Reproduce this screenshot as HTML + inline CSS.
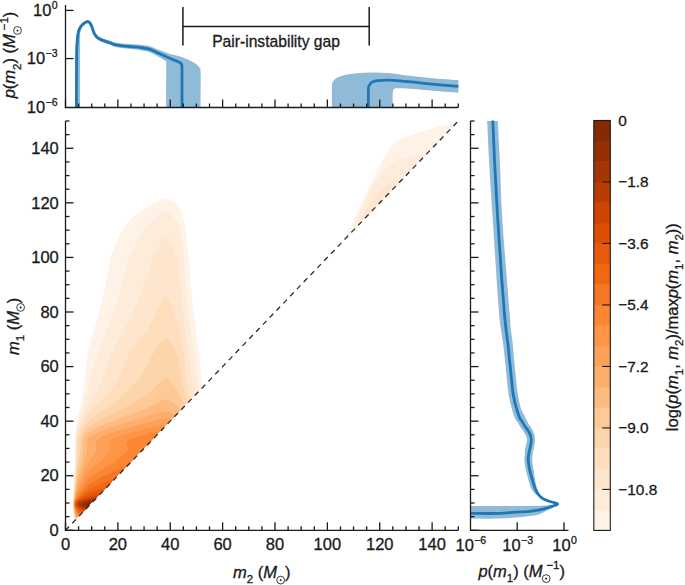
<!DOCTYPE html>
<html><head><meta charset="utf-8"><style>
html,body{margin:0;padding:0;background:#fff;width:685px;height:585px;overflow:hidden}
svg{display:block}
text{font-family:"Liberation Sans",sans-serif}
</style></head><body>
<svg width="685" height="585" viewBox="0 0 685 585">
<defs>
<clipPath id="cm"><rect x="65.5" y="120.99" width="392.81" height="409.31"/></clipPath>
<clipPath id="ct"><rect x="65.5" y="0" width="393.81" height="107.50"/></clipPath>
<clipPath id="cr"><rect x="470.5" y="119.99" width="110" height="410.31"/></clipPath>
</defs>
<rect width="685" height="585" fill="#fff"/>
<g clip-path="url(#cm)">
<path fill="#fff2e6" fill-rule="evenodd" d="M75.5 519.3 74.5 519.7 73.6 514.3 73.5 496.9 75.0 458.2 75.2 438.2 77.5 417.1 81.4 403.2 82.5 397.2 85.0 378.2 86.8 359.2 88.5 348.5 91.6 337.1 97.2 320.1 100.1 309.1 104.8 288.1 110.9 257.1 112.6 252.3 121.7 231.1 125.6 224.8 130.4 219.1 133.8 216.1 141.1 211.1 158.7 201.0 164.1 199.1 167.7 199.0 175.1 203.1 177.7 205.3 179.7 207.8 182.4 214.1 184.8 224.1 188.5 255.1 190.8 284.6 193.2 309.1 199.6 357.2 202.1 387.2 201.8 388.2 180.8 409.2 180.8 410.2 157.8 433.2 157.8 434.2 134.8 457.2 134.8 458.2 111.8 481.3 111.8 482.3 88.8 505.3 88.8 506.3 75.5 519.3Z"/>
<path fill="#feecda" fill-rule="evenodd" d="M75.5 519.3 74.5 519.1 74.0 516.3 73.5 511.1 73.5 502.3 75.3 461.2 75.6 440.2 76.5 431.4 77.5 423.6 78.5 420.1 82.0 411.2 87.5 389.4 91.7 375.2 95.8 358.2 99.6 347.5 111.1 320.1 114.7 310.1 121.1 288.1 127.7 260.1 129.9 254.1 142.6 233.1 149.6 224.1 154.3 219.1 159.7 214.2 163.7 212.3 166.7 211.7 168.7 212.6 171.8 215.1 175.7 219.4 178.7 225.1 180.8 232.1 184.1 257.1 186.7 298.1 188.5 319.1 194.7 355.2 197.2 377.2 199.3 390.2 198.8 391.2 180.8 409.2 180.8 410.2 157.8 433.2 157.8 434.2 134.8 457.2 134.8 458.2 111.7 481.3 111.7 482.3 88.8 505.3 88.8 506.3 75.5 519.3Z"/>
<path fill="#fee6ce" fill-rule="evenodd" d="M75.5 519.3 75.0 519.3 74.5 518.5 74.1 515.3 73.5 509.6 73.5 499.7 76.0 457.2 76.3 439.2 77.5 429.3 78.5 426.2 81.5 420.0 87.5 405.2 96.3 391.2 102.0 380.2 104.3 374.2 108.5 360.2 111.0 354.2 128.9 320.1 137.6 301.9 144.9 283.1 148.7 270.8 151.4 260.1 153.3 255.1 160.7 242.1 164.7 237.9 166.7 237.3 168.7 239.7 173.7 249.0 175.8 254.1 177.1 259.1 180.7 287.5 184.1 320.1 191.0 372.2 192.6 381.2 195.7 394.2 180.8 409.2 180.8 410.2 157.8 433.2 157.8 434.2 134.8 457.2 134.8 458.2 111.7 481.3 111.7 482.3 88.8 505.3 88.8 506.3 75.5 519.3Z"/>
<path fill="#fedebd" fill-rule="evenodd" d="M75.5 519.3 74.8 518.3 74.4 516.3 73.5 508.1 73.5 500.8 76.6 459.2 77.1 439.2 77.5 435.2 78.5 431.8 81.5 426.1 84.5 419.3 87.5 414.6 105.1 397.2 115.1 384.2 119.6 376.2 125.3 361.2 128.8 354.2 132.1 349.2 148.7 326.9 154.3 317.1 160.7 302.7 164.7 296.9 165.7 296.2 166.7 296.2 168.7 299.4 173.7 312.2 177.7 323.7 180.7 334.3 184.4 356.2 187.4 383.2 189.0 391.2 191.3 398.2 190.8 399.2 180.8 409.2 180.8 410.2 157.8 433.2 157.8 434.2 134.7 457.2 134.7 458.2 111.7 481.3 111.7 482.3 88.7 505.3 88.7 506.3 75.5 519.3Z"/>
<path fill="#fdd5ab" fill-rule="evenodd" d="M76.5 518.3 75.5 518.8 74.5 516.2 73.5 506.7 73.5 501.9 77.1 463.3 78.0 450.2 78.1 440.2 78.7 437.2 83.5 427.3 85.5 424.0 88.5 420.4 92.6 417.4 104.3 410.2 116.7 401.2 123.6 395.2 136.2 382.2 139.6 378.2 142.2 374.2 150.2 358.2 158.7 344.9 160.7 342.5 163.7 339.8 165.7 338.8 166.7 338.8 168.7 340.6 173.7 348.2 175.7 352.1 177.7 357.3 179.4 364.2 183.5 387.2 187.4 402.2 180.8 409.2 180.8 410.2 157.8 433.2 157.8 434.2 134.7 457.2 134.7 458.2 111.7 481.3 111.7 482.3 88.7 505.3 88.7 506.3 76.5 518.3Z"/>
<path fill="#fdc997" fill-rule="evenodd" d="M76.5 518.3 75.5 518.0 74.5 514.4 73.5 503.3 77.5 467.3 80.5 451.2 80.7 440.2 84.5 431.1 87.5 427.4 92.6 423.9 104.6 417.7 118.6 411.2 143.6 397.2 150.7 391.6 155.2 387.2 159.7 382.0 162.7 379.4 165.7 377.6 166.7 377.5 167.7 378.2 173.7 385.7 177.7 391.6 181.7 399.6 184.0 405.2 183.7 406.2 180.7 409.2 180.8 410.2 157.8 433.2 157.8 434.2 134.7 457.2 134.7 458.2 111.7 481.3 111.7 482.3 88.7 505.3 88.7 506.3 76.5 518.3Z"/>
<path fill="#fdbb81" fill-rule="evenodd" d="M76.5 518.3 75.5 516.9 74.5 512.3 73.7 505.3 73.8 502.3 76.2 486.3 77.5 475.0 81.5 461.8 82.6 456.2 83.3 450.2 83.2 443.2 83.5 439.2 84.5 437.0 87.5 432.9 91.6 430.1 103.6 424.5 125.6 415.9 144.8 409.2 151.2 406.2 159.7 401.4 163.7 399.8 165.7 399.4 167.7 399.6 173.7 403.3 177.7 406.5 180.7 409.8 180.7 410.2 157.7 433.2 157.7 434.2 134.7 457.2 134.7 458.2 111.7 481.3 111.7 482.3 88.7 505.3 88.7 506.3 76.5 518.3Z"/>
<path fill="#fdae6a" fill-rule="evenodd" d="M77.5 517.3 76.5 517.5 75.5 515.3 73.8 505.3 74.0 502.3 77.5 481.9 79.5 475.2 82.0 469.3 86.8 452.2 87.3 448.2 87.0 442.2 87.5 439.5 88.5 438.2 91.6 436.0 96.7 433.2 107.6 428.7 127.6 421.9 147.7 416.3 160.7 412.0 166.7 411.0 168.7 411.5 175.7 414.3 175.7 415.2 157.7 433.2 157.7 434.2 134.7 457.2 134.7 458.2 111.7 481.3 111.7 482.3 88.7 505.3 88.7 506.3 77.5 517.3Z"/>
<path fill="#fda159" fill-rule="evenodd" d="M77.5 517.3 77.1 517.3 76.6 516.3 75.5 513.3 74.5 509.1 74.0 504.3 74.5 500.1 76.4 493.3 77.5 487.4 85.5 467.8 87.5 464.1 93.2 456.2 96.0 451.2 96.7 448.2 95.9 445.2 95.8 443.2 96.7 440.2 97.5 439.2 101.0 437.2 110.5 433.2 128.6 427.5 146.7 423.1 160.7 419.2 166.7 418.4 170.7 419.4 170.7 420.2 157.7 433.2 157.7 434.2 134.7 457.2 134.7 458.2 111.7 481.3 111.7 482.3 88.7 505.3 88.7 506.3 77.5 517.3Z"/>
<path fill="#fd9446" fill-rule="evenodd" d="M78.5 516.3 77.5 516.6 76.9 515.3 75.5 511.5 74.2 505.3 74.5 501.1 76.3 496.3 77.5 491.5 81.5 484.4 84.5 477.2 87.5 472.4 90.6 469.4 98.4 463.3 104.0 458.2 109.6 451.2 110.5 448.2 109.2 444.2 109.6 442.2 110.5 440.2 113.6 438.2 129.6 432.8 159.7 425.6 165.7 424.8 165.7 425.2 157.7 433.2 157.7 434.2 134.7 457.2 134.7 458.2 111.6 481.3 111.6 482.3 88.7 505.3 88.7 506.3 78.5 516.3Z"/>
<path fill="#fb8634" fill-rule="evenodd" d="M159.7 431.2 159.5 431.2 159.7 431.2 159.7 431.2ZM79.5 515.3 78.5 516.0 77.5 515.0 75.5 509.9 74.4 505.3 74.5 502.2 77.5 494.5 81.5 489.3 84.5 483.8 88.5 478.5 93.6 474.7 114.4 462.2 122.4 456.2 127.7 450.2 128.2 448.2 126.7 445.2 126.7 443.2 128.2 440.2 129.6 439.2 132.6 438.1 158.7 431.4 158.7 432.2 157.7 433.2 157.7 434.2 134.7 457.2 134.7 458.2 111.6 481.3 111.6 482.3 88.7 505.3 88.7 506.3 79.5 515.3Z"/>
<path fill="#f67723" fill-rule="evenodd" d="M127.6 465.3 126.8 465.3 127.6 464.9 127.6 465.3ZM80.5 514.3 79.5 514.9 77.5 513.0 74.6 505.3 74.7 503.3 75.5 500.6 77.5 496.9 81.5 492.8 86.5 486.6 90.6 483.4 102.6 476.6 126.6 465.3 126.6 466.3 111.6 481.3 111.6 482.3 88.7 505.3 88.6 506.3 80.5 514.3Z"/>
<path fill="#f16813" fill-rule="evenodd" d="M114.6 478.3 114.4 478.3 114.6 478.2 114.6 478.3ZM81.5 513.3 80.5 513.5 77.5 511.2 75.0 505.3 75.5 501.6 77.5 498.5 81.5 495.6 84.5 492.5 88.5 489.6 113.6 478.6 113.6 479.3 111.6 481.3 111.6 482.3 88.6 505.3 88.6 506.3 81.5 513.3Z"/>
<path fill="#e75c0c" fill-rule="evenodd" d="M106.6 487.3 106.2 487.3 106.6 487.1 106.6 487.3ZM82.5 512.3 81.7 512.3 79.5 511.1 77.5 509.6 75.5 505.8 75.5 503.0 77.5 499.7 81.5 497.6 85.5 494.7 88.5 493.1 105.6 487.5 105.6 488.3 88.6 505.3 88.6 506.3 82.5 512.3Z"/>
<path fill="#de4e05" fill-rule="evenodd" d="M83.5 511.3 82.7 511.3 78.5 508.9 77.5 508.1 76.5 506.3 75.9 505.3 75.9 504.3 76.5 502.3 77.5 500.8 88.5 495.8 100.6 492.7 100.6 493.3 88.6 505.3 88.6 506.3 83.5 511.3Z"/>
<path fill="#ce4401" fill-rule="evenodd" d="M97.6 496.3 96.6 496.3 97.6 496.1 97.6 496.3ZM84.5 510.3 83.5 510.2 77.5 506.8 76.6 505.3 76.6 504.3 77.5 501.8 87.5 498.0 96.6 496.3 96.6 497.3 88.6 505.3 88.6 506.3 84.5 510.3Z"/>
<path fill="#b93d02" fill-rule="evenodd" d="M95.6 498.3 95.0 498.3 95.6 498.2 95.6 498.3ZM85.5 509.3 83.5 508.7 77.5 505.6 77.6 503.3 78.6 502.3 84.5 500.0 88.5 499.1 94.6 498.3 94.6 499.3 88.6 505.3 88.6 506.3 85.5 509.3Z"/>
<path fill="#a53603" fill-rule="evenodd" d="M86.5 508.3 79.1 505.3 79.0 504.3 79.8 503.3 83.9 501.3 87.5 500.4 93.6 499.6 93.6 500.3 88.6 505.3 88.6 506.3 86.5 508.3Z"/>
<path fill="#963003" fill-rule="evenodd" d="M88.5 506.3 87.5 507.2 84.5 506.4 82.0 505.3 82.0 504.3 82.7 503.3 84.5 502.2 92.6 500.8 92.6 501.3 88.6 505.3 88.5 506.3Z"/>
<path fill="#862a04" fill-rule="evenodd" d="M88.5 506.2 84.9 505.3 84.8 504.3 86.0 503.3 87.5 502.7 91.6 502.0 88.6 505.3 88.5 506.2Z"/>
<path fill="#fff2e6" d="M458.30 121.00 C457.73 121.20 457.95 121.37 454.90 122.20 C451.85 123.03 444.78 124.65 440.00 126.00 C435.22 127.35 430.53 128.97 426.20 130.30 C421.87 131.63 418.12 132.62 414.00 134.00 C409.88 135.38 404.75 137.02 401.50 138.60 C398.25 140.18 396.55 141.68 394.50 143.50 C392.45 145.32 391.28 146.50 389.20 149.50 C387.12 152.50 384.38 157.18 382.00 161.50 C379.62 165.82 377.32 170.48 374.90 175.40 C372.48 180.32 369.90 185.87 367.50 191.00 C365.10 196.13 363.08 200.70 360.50 206.20 C357.92 211.70 354.50 218.61 352.00 224.00 C349.50 229.39 346.58 236.12 345.50 238.54 Z"/><path fill="#feecda" d="M425.40 155.28 C423.87 155.34 419.80 155.16 416.20 155.60 C412.60 156.04 407.92 156.63 403.80 157.90 C399.68 159.17 395.33 160.55 391.50 163.20 C387.67 165.85 384.38 169.20 380.80 173.80 C377.22 178.40 373.13 185.10 370.00 190.80 C366.87 196.50 364.33 202.80 362.00 208.00 C359.67 213.20 357.42 218.30 356.00 222.00 C354.58 225.70 353.92 228.84 353.50 230.20 Z"/><path fill="#fee6ce" d="M400.80 180.92 C399.50 180.90 395.57 179.89 393.00 180.80 C390.43 181.71 388.73 183.20 385.40 186.40 C382.07 189.60 376.23 195.98 373.00 200.00 C369.77 204.02 368.00 207.33 366.00 210.50 C364.00 213.67 362.25 216.58 361.00 219.00 C359.75 221.42 358.92 223.99 358.50 224.99 Z"/>
</g>
<line x1="65.50" y1="530.30" x2="458.31" y2="120.99" stroke="#2b2b2b" stroke-width="1.3" stroke-dasharray="5.2 4.63"/>
<g clip-path="url(#ct)"><path d="M75.40 108.00 C75.40 98.67 75.27 63.50 75.40 52.00 C75.53 40.50 75.88 42.50 76.20 39.00 C76.52 35.50 76.70 33.20 77.30 31.00 C77.90 28.80 78.80 27.27 79.80 25.80 C80.80 24.33 82.03 23.15 83.30 22.20 C84.57 21.25 86.18 20.20 87.40 20.10 C88.62 20.00 89.67 20.65 90.60 21.60 C91.53 22.55 92.37 24.37 93.00 25.80 C93.63 27.23 93.87 28.93 94.40 30.20 C94.93 31.47 95.60 32.41 96.20 33.40 C96.80 34.39 97.03 35.35 98.00 36.14 C98.97 36.93 100.67 37.58 102.00 38.13 C103.33 38.69 104.67 39.06 106.00 39.49 C107.33 39.92 108.67 40.26 110.00 40.73 C111.33 41.21 112.67 41.94 114.00 42.33 C115.33 42.71 116.67 42.85 118.00 43.05 C119.33 43.24 120.67 43.37 122.00 43.50 C123.33 43.63 124.67 43.73 126.00 43.83 C127.33 43.93 128.67 44.00 130.00 44.09 C131.33 44.17 132.67 44.27 134.00 44.35 C135.33 44.43 136.67 44.48 138.00 44.58 C139.33 44.68 140.67 44.78 142.00 44.93 C143.33 45.09 144.67 45.26 146.00 45.49 C147.33 45.72 148.67 45.93 150.00 46.30 C151.33 46.67 152.67 47.18 154.00 47.72 C155.33 48.26 156.67 48.97 158.00 49.52 C159.33 50.07 160.67 50.55 162.00 51.03 C163.33 51.51 164.33 51.79 166.00 52.39 C167.67 52.98 169.57 53.86 172.00 54.60 C174.43 55.34 177.70 55.85 180.60 56.80 C183.50 57.75 186.90 59.13 189.40 60.30 C191.90 61.47 193.97 62.58 195.60 63.80 C197.23 65.02 198.37 66.23 199.20 67.60 C200.03 68.97 200.37 65.27 200.60 72.00 C200.83 78.73 200.60 102.00 200.60 108.00 L166.20 108.00 C166.20 100.17 166.23 68.84 166.20 61.00 C166.17 53.16 166.70 61.37 166.00 60.99 C165.30 60.61 163.33 59.45 162.00 58.69 C160.67 57.94 159.33 57.23 158.00 56.48 C156.67 55.73 155.33 54.90 154.00 54.20 C152.67 53.50 151.33 52.80 150.00 52.30 C148.67 51.80 147.33 51.54 146.00 51.22 C144.67 50.91 143.33 50.64 142.00 50.40 C140.67 50.16 139.33 49.96 138.00 49.78 C136.67 49.60 135.33 49.46 134.00 49.31 C132.67 49.16 131.33 49.03 130.00 48.89 C128.67 48.75 127.33 48.62 126.00 48.47 C124.67 48.32 123.33 48.16 122.00 47.98 C120.67 47.80 119.33 47.63 118.00 47.39 C116.67 47.16 115.33 46.99 114.00 46.57 C112.67 46.15 111.33 45.38 110.00 44.87 C108.67 44.36 107.33 43.99 106.00 43.52 C104.67 43.04 103.33 42.62 102.00 42.01 C100.67 41.40 99.17 40.76 98.00 39.86 C96.83 38.96 95.80 37.81 95.00 36.60 C94.20 35.39 93.73 33.93 93.20 32.60 C92.67 31.27 92.40 29.93 91.80 28.60 C91.20 27.27 90.33 25.48 89.60 24.60 C88.87 23.72 88.23 23.25 87.40 23.30 C86.57 23.35 85.47 24.18 84.60 24.90 C83.73 25.62 82.87 26.48 82.20 27.60 C81.53 28.72 80.95 29.53 80.60 31.60 C80.25 33.67 80.18 27.27 80.10 40.00 C80.02 52.73 80.10 96.67 80.10 108.00Z" fill="#8fbbd9"/><path d="M332.00 108.00 C332.00 104.33 331.75 90.50 332.00 86.00 C332.25 81.50 332.67 82.37 333.50 81.00 C334.33 79.63 335.58 78.67 337.00 77.80 C338.42 76.93 339.83 76.43 342.00 75.80 C344.17 75.17 347.00 74.48 350.00 74.00 C353.00 73.52 356.00 73.17 360.00 72.90 C364.00 72.63 369.00 72.33 374.00 72.40 C379.00 72.47 384.40 72.77 390.00 73.30 C395.60 73.83 400.93 74.83 407.60 75.60 C414.27 76.37 421.53 77.13 430.00 77.90 C438.47 78.67 453.67 79.82 458.40 80.20 L458.40 92.70 C453.67 92.32 438.07 91.05 430.00 90.40 C421.93 89.75 415.33 89.17 410.00 88.80 C404.67 88.43 400.58 88.20 398.00 88.20 C395.42 88.20 395.33 88.33 394.50 88.80 C393.67 89.27 393.30 89.97 393.00 91.00 C392.70 92.03 392.75 92.17 392.70 95.00 C392.65 97.83 392.70 105.83 392.70 108.00Z" fill="#8fbbd9"/><path d="M76.40 108.00 C76.42 103.33 76.45 89.33 76.50 80.00 C76.55 70.67 76.55 58.77 76.70 52.00 C76.85 45.23 77.12 42.77 77.40 39.40 C77.68 36.03 77.88 33.87 78.40 31.80 C78.92 29.73 79.65 28.37 80.50 27.00 C81.35 25.63 82.35 24.50 83.50 23.60 C84.65 22.70 86.35 21.72 87.40 21.60 C88.45 21.48 89.05 22.00 89.80 22.90 C90.55 23.80 91.33 25.63 91.90 27.00 C92.47 28.37 92.68 29.78 93.20 31.10 C93.72 32.42 94.20 33.75 95.00 34.90 C95.80 36.05 96.70 37.08 98.00 38.00 C99.30 38.92 100.80 39.60 102.80 40.40 C104.80 41.20 108.17 42.13 110.00 42.80 C111.83 43.47 111.72 43.90 113.80 44.40 C115.88 44.90 119.58 45.43 122.50 45.80 C125.42 46.17 128.38 46.33 131.30 46.60 C134.22 46.87 136.88 46.95 140.00 47.40 C143.12 47.85 147.00 48.37 150.00 49.30 C153.00 50.23 155.37 51.78 158.00 53.00 C160.63 54.22 163.47 55.55 165.80 56.60 C168.13 57.65 169.82 58.40 172.00 59.30 C174.18 60.20 177.75 61.55 178.90 62.00 C180.6 62.8 182 63.8 182 66 L182 108" fill="none" stroke="#1f77b4" stroke-width="2.8" stroke-linejoin="round"/><path d="M368.40 108.00 C368.40 104.83 368.27 92.75 368.40 89.00 C368.53 85.25 368.73 86.53 369.20 85.50 C369.67 84.47 370.37 83.50 371.20 82.80 C372.03 82.10 373.13 81.67 374.20 81.30 C375.27 80.93 375.30 80.78 377.60 80.60 C379.90 80.42 384.27 80.17 388.00 80.20 C391.73 80.23 394.67 80.35 400.00 80.80 C405.33 81.25 413.33 82.23 420.00 82.90 C426.67 83.57 433.60 84.23 440.00 84.80 C446.40 85.37 455.33 86.05 458.40 86.30" fill="none" stroke="#1f77b4" stroke-width="2.8" stroke-linejoin="round"/></g>
<g clip-path="url(#cr)"><path d="M487.20 121.00 C487.50 127.50 488.07 143.50 489.00 160.00 C489.93 176.50 491.63 201.67 492.80 220.00 C493.97 238.33 494.97 254.67 496.00 270.00 C497.03 285.33 498.17 302.00 499.00 312.00 C499.83 322.00 500.28 324.43 501.00 330.00 C501.72 335.57 502.63 340.27 503.30 345.40 C503.97 350.53 504.45 355.67 505.00 360.80 C505.55 365.93 506.10 371.28 506.60 376.20 C507.10 381.12 507.47 386.25 508.00 390.30 C508.53 394.35 509.13 397.32 509.80 400.50 C510.47 403.68 511.13 406.43 512.00 409.40 C512.87 412.37 514.08 416.20 515.00 418.30 C515.92 420.40 516.50 420.38 517.50 422.00 C518.50 423.62 519.83 426.17 521.00 428.00 C522.17 429.83 523.58 431.50 524.50 433.00 C525.42 434.50 526.08 435.78 526.50 437.00 C526.92 438.22 527.08 438.95 527.00 440.30 C526.92 441.65 526.33 443.50 526.00 445.10 C525.67 446.70 525.20 448.25 525.00 449.90 C524.80 451.55 524.90 453.38 524.80 455.00 C524.70 456.62 524.27 457.25 524.40 459.60 C524.53 461.95 525.03 466.12 525.60 469.10 C526.17 472.08 527.03 474.70 527.80 477.50 C528.57 480.30 529.23 483.48 530.20 485.90 C531.17 488.32 532.13 490.28 533.60 492.00 C535.07 493.72 536.60 494.87 539.00 496.20 C541.40 497.53 545.17 498.87 548.00 500.00 C550.83 501.13 555.52 502.17 556.00 503.00 C556.48 503.83 555.90 504.50 550.90 505.00 C545.90 505.50 539.48 505.85 526.00 506.00 C512.52 506.15 479.33 505.92 470.00 505.90 L470.00 518.60 C475.00 518.60 490.67 518.95 500.00 518.60 C509.33 518.25 519.52 517.17 526.00 516.50 C532.48 515.83 535.15 515.72 538.90 514.60 C542.65 513.48 545.10 511.50 548.50 509.80 C551.90 508.10 558.38 505.80 559.30 504.40 C560.22 503.00 556.38 502.33 554.00 501.40 C551.62 500.47 547.33 499.78 545.00 498.80 C542.67 497.82 541.25 496.97 540.00 495.50 C538.75 494.03 538.28 492.42 537.50 490.00 C536.72 487.58 535.98 484.48 535.30 481.00 C534.62 477.52 533.92 472.67 533.40 469.10 C532.88 465.53 532.33 461.95 532.20 459.60 C532.07 457.25 532.40 456.62 532.60 455.00 C532.80 453.38 533.10 451.55 533.40 449.90 C533.70 448.25 534.13 446.70 534.40 445.10 C534.67 443.50 535.00 441.98 535.00 440.30 C535.00 438.62 534.90 436.88 534.40 435.00 C533.90 433.12 533.07 431.00 532.00 429.00 C530.93 427.00 529.32 425.33 528.00 423.00 C526.68 420.67 525.22 417.27 524.10 415.00 C522.98 412.73 522.15 411.82 521.30 409.40 C520.45 406.98 519.68 403.68 519.00 400.50 C518.32 397.32 517.73 394.35 517.20 390.30 C516.67 386.25 516.30 381.12 515.80 376.20 C515.30 371.28 514.68 365.93 514.20 360.80 C513.72 355.67 513.43 350.53 512.90 345.40 C512.37 340.27 511.57 335.57 511.00 330.00 C510.43 324.43 510.93 330.33 509.50 312.00 C508.07 293.67 504.02 245.33 502.40 220.00 C500.78 194.67 500.57 176.50 499.80 160.00 C499.03 143.50 498.13 127.50 497.80 121.00Z" fill="#8fbbd9"/><path d="M492.80 120.50 C493.08 127.08 493.67 143.42 494.50 160.00 C495.33 176.58 496.70 201.67 497.80 220.00 C498.90 238.33 500.02 254.67 501.10 270.00 C502.18 285.33 503.47 302.00 504.30 312.00 C505.13 322.00 505.47 324.43 506.10 330.00 C506.73 335.57 507.52 340.27 508.10 345.40 C508.68 350.53 509.08 355.67 509.60 360.80 C510.12 365.93 510.70 371.28 511.20 376.20 C511.70 381.12 512.07 386.25 512.60 390.30 C513.13 394.35 513.70 397.32 514.40 400.50 C515.10 403.68 515.90 406.43 516.80 409.40 C517.70 412.37 519.03 416.45 519.80 418.30 C520.57 420.15 520.57 419.23 521.40 420.50 C522.23 421.77 523.67 424.20 524.80 425.90 C525.93 427.60 527.23 429.10 528.20 430.70 C529.17 432.30 530.08 433.90 530.60 435.50 C531.12 437.10 531.30 438.70 531.30 440.30 C531.30 441.90 530.88 443.50 530.60 445.10 C530.32 446.70 529.93 448.25 529.60 449.90 C529.27 451.55 528.83 453.38 528.60 455.00 C528.37 456.62 528.07 457.35 528.20 459.60 C528.33 461.85 528.83 465.58 529.40 468.50 C529.97 471.42 530.82 474.25 531.60 477.10 C532.38 479.95 533.18 483.03 534.10 485.60 C535.02 488.17 535.88 490.50 537.10 492.50 C538.32 494.50 539.55 496.18 541.40 497.60 C543.25 499.02 545.55 499.97 548.20 501.00 C550.85 502.03 556.65 502.93 557.30 503.80 C557.95 504.67 554.17 505.40 552.10 506.20 C550.03 507.00 547.50 507.90 544.90 508.60 C542.30 509.30 539.48 509.90 536.50 510.40 C533.52 510.90 530.58 511.30 527.00 511.60 C523.42 511.90 519.62 511.90 515.00 512.20 C510.38 512.50 506.80 513.20 499.30 513.40 C491.80 513.60 474.88 513.40 470.00 513.40" fill="none" stroke="#1f77b4" stroke-width="2.8" stroke-linejoin="round"/></g>
<rect x="593.80" y="509.90" width="16.50" height="20.89" fill="#fff2e6"/><rect x="593.80" y="489.41" width="16.50" height="20.89" fill="#feecda"/><rect x="593.80" y="468.91" width="16.50" height="20.89" fill="#fee6ce"/><rect x="593.80" y="448.42" width="16.50" height="20.89" fill="#fedebd"/><rect x="593.80" y="427.92" width="16.50" height="20.89" fill="#fdd5ab"/><rect x="593.80" y="407.43" width="16.50" height="20.89" fill="#fdc997"/><rect x="593.80" y="386.94" width="16.50" height="20.89" fill="#fdbb81"/><rect x="593.80" y="366.44" width="16.50" height="20.89" fill="#fdae6a"/><rect x="593.80" y="345.94" width="16.50" height="20.89" fill="#fda159"/><rect x="593.80" y="325.45" width="16.50" height="20.89" fill="#fd9446"/><rect x="593.80" y="304.96" width="16.50" height="20.89" fill="#fb8634"/><rect x="593.80" y="284.46" width="16.50" height="20.89" fill="#f67723"/><rect x="593.80" y="263.97" width="16.50" height="20.89" fill="#f16813"/><rect x="593.80" y="243.47" width="16.50" height="20.89" fill="#e75c0c"/><rect x="593.80" y="222.98" width="16.50" height="20.89" fill="#de4e05"/><rect x="593.80" y="202.48" width="16.50" height="20.89" fill="#ce4401"/><rect x="593.80" y="181.99" width="16.50" height="20.89" fill="#b93d02"/><rect x="593.80" y="161.49" width="16.50" height="20.89" fill="#a53603"/><rect x="593.80" y="141.00" width="16.50" height="20.89" fill="#963003"/><rect x="593.80" y="120.50" width="16.50" height="20.89" fill="#862a04"/><rect x="593.80" y="120.50" width="16.50" height="409.90" fill="none" stroke="#1a1a1a" stroke-width="1.1"/><line x1="602.30" y1="120.50" x2="610.30" y2="120.50" stroke="#1a1a1a" stroke-width="1.10"/><line x1="602.30" y1="181.98" x2="610.30" y2="181.98" stroke="#1a1a1a" stroke-width="1.10"/><line x1="602.30" y1="243.47" x2="610.30" y2="243.47" stroke="#1a1a1a" stroke-width="1.10"/><line x1="602.30" y1="304.95" x2="610.30" y2="304.95" stroke="#1a1a1a" stroke-width="1.10"/><line x1="602.30" y1="366.44" x2="610.30" y2="366.44" stroke="#1a1a1a" stroke-width="1.10"/><line x1="602.30" y1="427.92" x2="610.30" y2="427.92" stroke="#1a1a1a" stroke-width="1.10"/><line x1="602.30" y1="489.41" x2="610.30" y2="489.41" stroke="#1a1a1a" stroke-width="1.10"/>
<path d="M65.50 120.99 V530.30 H458.31" fill="none" stroke="#1a1a1a" stroke-width="1.30"/><line x1="65.50" y1="530.30" x2="73.50" y2="530.30" stroke="#1a1a1a" stroke-width="1.30"/><line x1="65.50" y1="530.30" x2="65.50" y2="522.30" stroke="#1a1a1a" stroke-width="1.30"/><line x1="65.50" y1="516.66" x2="69.50" y2="516.66" stroke="#1a1a1a" stroke-width="1.30"/><line x1="78.59" y1="530.30" x2="78.59" y2="526.30" stroke="#1a1a1a" stroke-width="1.30"/><line x1="65.50" y1="503.01" x2="69.50" y2="503.01" stroke="#1a1a1a" stroke-width="1.30"/><line x1="91.69" y1="530.30" x2="91.69" y2="526.30" stroke="#1a1a1a" stroke-width="1.30"/><line x1="65.50" y1="489.37" x2="69.50" y2="489.37" stroke="#1a1a1a" stroke-width="1.30"/><line x1="104.78" y1="530.30" x2="104.78" y2="526.30" stroke="#1a1a1a" stroke-width="1.30"/><line x1="65.50" y1="475.73" x2="73.50" y2="475.73" stroke="#1a1a1a" stroke-width="1.30"/><line x1="117.87" y1="530.30" x2="117.87" y2="522.30" stroke="#1a1a1a" stroke-width="1.30"/><line x1="65.50" y1="462.08" x2="69.50" y2="462.08" stroke="#1a1a1a" stroke-width="1.30"/><line x1="130.97" y1="530.30" x2="130.97" y2="526.30" stroke="#1a1a1a" stroke-width="1.30"/><line x1="65.50" y1="448.44" x2="69.50" y2="448.44" stroke="#1a1a1a" stroke-width="1.30"/><line x1="144.06" y1="530.30" x2="144.06" y2="526.30" stroke="#1a1a1a" stroke-width="1.30"/><line x1="65.50" y1="434.80" x2="69.50" y2="434.80" stroke="#1a1a1a" stroke-width="1.30"/><line x1="157.15" y1="530.30" x2="157.15" y2="526.30" stroke="#1a1a1a" stroke-width="1.30"/><line x1="65.50" y1="421.15" x2="73.50" y2="421.15" stroke="#1a1a1a" stroke-width="1.30"/><line x1="170.25" y1="530.30" x2="170.25" y2="522.30" stroke="#1a1a1a" stroke-width="1.30"/><line x1="65.50" y1="407.51" x2="69.50" y2="407.51" stroke="#1a1a1a" stroke-width="1.30"/><line x1="183.34" y1="530.30" x2="183.34" y2="526.30" stroke="#1a1a1a" stroke-width="1.30"/><line x1="65.50" y1="393.86" x2="69.50" y2="393.86" stroke="#1a1a1a" stroke-width="1.30"/><line x1="196.44" y1="530.30" x2="196.44" y2="526.30" stroke="#1a1a1a" stroke-width="1.30"/><line x1="65.50" y1="380.22" x2="69.50" y2="380.22" stroke="#1a1a1a" stroke-width="1.30"/><line x1="209.53" y1="530.30" x2="209.53" y2="526.30" stroke="#1a1a1a" stroke-width="1.30"/><line x1="65.50" y1="366.58" x2="73.50" y2="366.58" stroke="#1a1a1a" stroke-width="1.30"/><line x1="222.62" y1="530.30" x2="222.62" y2="522.30" stroke="#1a1a1a" stroke-width="1.30"/><line x1="65.50" y1="352.93" x2="69.50" y2="352.93" stroke="#1a1a1a" stroke-width="1.30"/><line x1="235.72" y1="530.30" x2="235.72" y2="526.30" stroke="#1a1a1a" stroke-width="1.30"/><line x1="65.50" y1="339.29" x2="69.50" y2="339.29" stroke="#1a1a1a" stroke-width="1.30"/><line x1="248.81" y1="530.30" x2="248.81" y2="526.30" stroke="#1a1a1a" stroke-width="1.30"/><line x1="65.50" y1="325.65" x2="69.50" y2="325.65" stroke="#1a1a1a" stroke-width="1.30"/><line x1="261.90" y1="530.30" x2="261.90" y2="526.30" stroke="#1a1a1a" stroke-width="1.30"/><line x1="65.50" y1="312.00" x2="73.50" y2="312.00" stroke="#1a1a1a" stroke-width="1.30"/><line x1="275.00" y1="530.30" x2="275.00" y2="522.30" stroke="#1a1a1a" stroke-width="1.30"/><line x1="65.50" y1="298.36" x2="69.50" y2="298.36" stroke="#1a1a1a" stroke-width="1.30"/><line x1="288.09" y1="530.30" x2="288.09" y2="526.30" stroke="#1a1a1a" stroke-width="1.30"/><line x1="65.50" y1="284.72" x2="69.50" y2="284.72" stroke="#1a1a1a" stroke-width="1.30"/><line x1="301.18" y1="530.30" x2="301.18" y2="526.30" stroke="#1a1a1a" stroke-width="1.30"/><line x1="65.50" y1="271.07" x2="69.50" y2="271.07" stroke="#1a1a1a" stroke-width="1.30"/><line x1="314.28" y1="530.30" x2="314.28" y2="526.30" stroke="#1a1a1a" stroke-width="1.30"/><line x1="65.50" y1="257.43" x2="73.50" y2="257.43" stroke="#1a1a1a" stroke-width="1.30"/><line x1="327.37" y1="530.30" x2="327.37" y2="522.30" stroke="#1a1a1a" stroke-width="1.30"/><line x1="65.50" y1="243.79" x2="69.50" y2="243.79" stroke="#1a1a1a" stroke-width="1.30"/><line x1="340.46" y1="530.30" x2="340.46" y2="526.30" stroke="#1a1a1a" stroke-width="1.30"/><line x1="65.50" y1="230.14" x2="69.50" y2="230.14" stroke="#1a1a1a" stroke-width="1.30"/><line x1="353.56" y1="530.30" x2="353.56" y2="526.30" stroke="#1a1a1a" stroke-width="1.30"/><line x1="65.50" y1="216.50" x2="69.50" y2="216.50" stroke="#1a1a1a" stroke-width="1.30"/><line x1="366.65" y1="530.30" x2="366.65" y2="526.30" stroke="#1a1a1a" stroke-width="1.30"/><line x1="65.50" y1="202.86" x2="73.50" y2="202.86" stroke="#1a1a1a" stroke-width="1.30"/><line x1="379.74" y1="530.30" x2="379.74" y2="522.30" stroke="#1a1a1a" stroke-width="1.30"/><line x1="65.50" y1="189.21" x2="69.50" y2="189.21" stroke="#1a1a1a" stroke-width="1.30"/><line x1="392.84" y1="530.30" x2="392.84" y2="526.30" stroke="#1a1a1a" stroke-width="1.30"/><line x1="65.50" y1="175.57" x2="69.50" y2="175.57" stroke="#1a1a1a" stroke-width="1.30"/><line x1="405.93" y1="530.30" x2="405.93" y2="526.30" stroke="#1a1a1a" stroke-width="1.30"/><line x1="65.50" y1="161.93" x2="69.50" y2="161.93" stroke="#1a1a1a" stroke-width="1.30"/><line x1="419.02" y1="530.30" x2="419.02" y2="526.30" stroke="#1a1a1a" stroke-width="1.30"/><line x1="65.50" y1="148.28" x2="73.50" y2="148.28" stroke="#1a1a1a" stroke-width="1.30"/><line x1="432.12" y1="530.30" x2="432.12" y2="522.30" stroke="#1a1a1a" stroke-width="1.30"/><line x1="65.50" y1="134.64" x2="69.50" y2="134.64" stroke="#1a1a1a" stroke-width="1.30"/><line x1="445.21" y1="530.30" x2="445.21" y2="526.30" stroke="#1a1a1a" stroke-width="1.30"/><line x1="65.50" y1="120.99" x2="69.50" y2="120.99" stroke="#1a1a1a" stroke-width="1.30"/><line x1="458.31" y1="530.30" x2="458.31" y2="526.30" stroke="#1a1a1a" stroke-width="1.30"/><path d="M65.50 5.10 V107.50 H458.31" fill="none" stroke="#1a1a1a" stroke-width="1.30"/><line x1="65.50" y1="107.50" x2="65.50" y2="99.50" stroke="#1a1a1a" stroke-width="1.30"/><line x1="78.59" y1="107.50" x2="78.59" y2="103.50" stroke="#1a1a1a" stroke-width="1.30"/><line x1="91.69" y1="107.50" x2="91.69" y2="103.50" stroke="#1a1a1a" stroke-width="1.30"/><line x1="104.78" y1="107.50" x2="104.78" y2="103.50" stroke="#1a1a1a" stroke-width="1.30"/><line x1="117.87" y1="107.50" x2="117.87" y2="99.50" stroke="#1a1a1a" stroke-width="1.30"/><line x1="130.97" y1="107.50" x2="130.97" y2="103.50" stroke="#1a1a1a" stroke-width="1.30"/><line x1="144.06" y1="107.50" x2="144.06" y2="103.50" stroke="#1a1a1a" stroke-width="1.30"/><line x1="157.15" y1="107.50" x2="157.15" y2="103.50" stroke="#1a1a1a" stroke-width="1.30"/><line x1="170.25" y1="107.50" x2="170.25" y2="99.50" stroke="#1a1a1a" stroke-width="1.30"/><line x1="183.34" y1="107.50" x2="183.34" y2="103.50" stroke="#1a1a1a" stroke-width="1.30"/><line x1="196.44" y1="107.50" x2="196.44" y2="103.50" stroke="#1a1a1a" stroke-width="1.30"/><line x1="209.53" y1="107.50" x2="209.53" y2="103.50" stroke="#1a1a1a" stroke-width="1.30"/><line x1="222.62" y1="107.50" x2="222.62" y2="99.50" stroke="#1a1a1a" stroke-width="1.30"/><line x1="235.72" y1="107.50" x2="235.72" y2="103.50" stroke="#1a1a1a" stroke-width="1.30"/><line x1="248.81" y1="107.50" x2="248.81" y2="103.50" stroke="#1a1a1a" stroke-width="1.30"/><line x1="261.90" y1="107.50" x2="261.90" y2="103.50" stroke="#1a1a1a" stroke-width="1.30"/><line x1="275.00" y1="107.50" x2="275.00" y2="99.50" stroke="#1a1a1a" stroke-width="1.30"/><line x1="288.09" y1="107.50" x2="288.09" y2="103.50" stroke="#1a1a1a" stroke-width="1.30"/><line x1="301.18" y1="107.50" x2="301.18" y2="103.50" stroke="#1a1a1a" stroke-width="1.30"/><line x1="314.28" y1="107.50" x2="314.28" y2="103.50" stroke="#1a1a1a" stroke-width="1.30"/><line x1="327.37" y1="107.50" x2="327.37" y2="99.50" stroke="#1a1a1a" stroke-width="1.30"/><line x1="340.46" y1="107.50" x2="340.46" y2="103.50" stroke="#1a1a1a" stroke-width="1.30"/><line x1="353.56" y1="107.50" x2="353.56" y2="103.50" stroke="#1a1a1a" stroke-width="1.30"/><line x1="366.65" y1="107.50" x2="366.65" y2="103.50" stroke="#1a1a1a" stroke-width="1.30"/><line x1="379.74" y1="107.50" x2="379.74" y2="99.50" stroke="#1a1a1a" stroke-width="1.30"/><line x1="392.84" y1="107.50" x2="392.84" y2="103.50" stroke="#1a1a1a" stroke-width="1.30"/><line x1="405.93" y1="107.50" x2="405.93" y2="103.50" stroke="#1a1a1a" stroke-width="1.30"/><line x1="419.02" y1="107.50" x2="419.02" y2="103.50" stroke="#1a1a1a" stroke-width="1.30"/><line x1="432.12" y1="107.50" x2="432.12" y2="99.50" stroke="#1a1a1a" stroke-width="1.30"/><line x1="445.21" y1="107.50" x2="445.21" y2="103.50" stroke="#1a1a1a" stroke-width="1.30"/><line x1="458.31" y1="107.50" x2="458.31" y2="103.50" stroke="#1a1a1a" stroke-width="1.30"/><line x1="65.50" y1="10.43" x2="73.50" y2="10.43" stroke="#1a1a1a" stroke-width="1.30"/><line x1="65.50" y1="58.55" x2="73.50" y2="58.55" stroke="#1a1a1a" stroke-width="1.30"/><path d="M470.50 120.99 V530.30 H568.50" fill="none" stroke="#1a1a1a" stroke-width="1.30"/><line x1="470.50" y1="530.30" x2="478.50" y2="530.30" stroke="#1a1a1a" stroke-width="1.30"/><line x1="470.50" y1="516.66" x2="474.50" y2="516.66" stroke="#1a1a1a" stroke-width="1.30"/><line x1="470.50" y1="503.01" x2="474.50" y2="503.01" stroke="#1a1a1a" stroke-width="1.30"/><line x1="470.50" y1="489.37" x2="474.50" y2="489.37" stroke="#1a1a1a" stroke-width="1.30"/><line x1="470.50" y1="475.73" x2="478.50" y2="475.73" stroke="#1a1a1a" stroke-width="1.30"/><line x1="470.50" y1="462.08" x2="474.50" y2="462.08" stroke="#1a1a1a" stroke-width="1.30"/><line x1="470.50" y1="448.44" x2="474.50" y2="448.44" stroke="#1a1a1a" stroke-width="1.30"/><line x1="470.50" y1="434.80" x2="474.50" y2="434.80" stroke="#1a1a1a" stroke-width="1.30"/><line x1="470.50" y1="421.15" x2="478.50" y2="421.15" stroke="#1a1a1a" stroke-width="1.30"/><line x1="470.50" y1="407.51" x2="474.50" y2="407.51" stroke="#1a1a1a" stroke-width="1.30"/><line x1="470.50" y1="393.86" x2="474.50" y2="393.86" stroke="#1a1a1a" stroke-width="1.30"/><line x1="470.50" y1="380.22" x2="474.50" y2="380.22" stroke="#1a1a1a" stroke-width="1.30"/><line x1="470.50" y1="366.58" x2="478.50" y2="366.58" stroke="#1a1a1a" stroke-width="1.30"/><line x1="470.50" y1="352.93" x2="474.50" y2="352.93" stroke="#1a1a1a" stroke-width="1.30"/><line x1="470.50" y1="339.29" x2="474.50" y2="339.29" stroke="#1a1a1a" stroke-width="1.30"/><line x1="470.50" y1="325.65" x2="474.50" y2="325.65" stroke="#1a1a1a" stroke-width="1.30"/><line x1="470.50" y1="312.00" x2="478.50" y2="312.00" stroke="#1a1a1a" stroke-width="1.30"/><line x1="470.50" y1="298.36" x2="474.50" y2="298.36" stroke="#1a1a1a" stroke-width="1.30"/><line x1="470.50" y1="284.72" x2="474.50" y2="284.72" stroke="#1a1a1a" stroke-width="1.30"/><line x1="470.50" y1="271.07" x2="474.50" y2="271.07" stroke="#1a1a1a" stroke-width="1.30"/><line x1="470.50" y1="257.43" x2="478.50" y2="257.43" stroke="#1a1a1a" stroke-width="1.30"/><line x1="470.50" y1="243.79" x2="474.50" y2="243.79" stroke="#1a1a1a" stroke-width="1.30"/><line x1="470.50" y1="230.14" x2="474.50" y2="230.14" stroke="#1a1a1a" stroke-width="1.30"/><line x1="470.50" y1="216.50" x2="474.50" y2="216.50" stroke="#1a1a1a" stroke-width="1.30"/><line x1="470.50" y1="202.86" x2="478.50" y2="202.86" stroke="#1a1a1a" stroke-width="1.30"/><line x1="470.50" y1="189.21" x2="474.50" y2="189.21" stroke="#1a1a1a" stroke-width="1.30"/><line x1="470.50" y1="175.57" x2="474.50" y2="175.57" stroke="#1a1a1a" stroke-width="1.30"/><line x1="470.50" y1="161.93" x2="474.50" y2="161.93" stroke="#1a1a1a" stroke-width="1.30"/><line x1="470.50" y1="148.28" x2="478.50" y2="148.28" stroke="#1a1a1a" stroke-width="1.30"/><line x1="470.50" y1="134.64" x2="474.50" y2="134.64" stroke="#1a1a1a" stroke-width="1.30"/><line x1="470.50" y1="120.99" x2="474.50" y2="120.99" stroke="#1a1a1a" stroke-width="1.30"/><line x1="517.20" y1="530.30" x2="517.20" y2="522.30" stroke="#1a1a1a" stroke-width="1.30"/><line x1="564.00" y1="530.30" x2="564.00" y2="522.30" stroke="#1a1a1a" stroke-width="1.30"/>
<line x1="182.90" y1="7.00" x2="182.90" y2="45.60" stroke="#1a1a1a" stroke-width="1.50"/><line x1="369.20" y1="7.00" x2="369.20" y2="45.60" stroke="#1a1a1a" stroke-width="1.50"/><line x1="182.90" y1="26.50" x2="369.20" y2="26.50" stroke="#1a1a1a" stroke-width="1.50"/>
<g font-family="Liberation Sans, sans-serif" fill="#1a1a1a" stroke="#1a1a1a" stroke-width="0.3">
<text x="618.30" y="125.90" font-size="15.40">0</text><text x="618.30" y="187.38" font-size="15.40">−1.8</text><text x="618.30" y="248.87" font-size="15.40">−3.6</text><text x="618.30" y="310.35" font-size="15.40">−5.4</text><text x="618.30" y="371.84" font-size="15.40">−7.2</text><text x="618.30" y="433.32" font-size="15.40">−9.0</text><text x="618.30" y="494.81" font-size="15.40">−10.8</text><text x="49.62" y="536.00" font-size="16.50">0</text><text x="60.91" y="550.30" font-size="16.50">0</text><text x="40.45" y="481.43" font-size="16.50">20</text><text x="108.70" y="550.30" font-size="16.50">20</text><text x="40.45" y="426.85" font-size="16.50">40</text><text x="161.07" y="550.30" font-size="16.50">40</text><text x="40.45" y="372.28" font-size="16.50">60</text><text x="213.45" y="550.30" font-size="16.50">60</text><text x="40.45" y="317.70" font-size="16.50">80</text><text x="265.82" y="550.30" font-size="16.50">80</text><text x="31.27" y="263.13" font-size="16.50">100</text><text x="313.61" y="550.30" font-size="16.50">100</text><text x="31.27" y="208.56" font-size="16.50">120</text><text x="365.98" y="550.30" font-size="16.50">120</text><text x="31.27" y="153.98" font-size="16.50">140</text><text x="418.35" y="550.30" font-size="16.50">140</text><text x="33.05" y="16.33" font-size="16.50">10</text><text x="51.70" y="9.33" font-size="10.60">0</text><text x="26.86" y="64.45" font-size="16.50">10</text><text x="45.51" y="57.45" font-size="10.60">−3</text><text x="26.86" y="113.30" font-size="16.50">10</text><text x="45.51" y="106.30" font-size="10.60">−6</text><text x="455.53" y="550.80" font-size="16.50">10</text><text x="474.18" y="543.80" font-size="10.60">−6</text><text x="502.33" y="550.80" font-size="16.50">10</text><text x="520.98" y="543.80" font-size="10.60">−3</text><text x="552.23" y="550.80" font-size="16.50">10</text><text x="570.88" y="543.80" font-size="10.60">0</text><text x="233.02" y="578.00" font-size="16.50" font-style="italic">m</text><text x="246.77" y="583.30" font-size="11.50">2</text><text x="257.75" y="578.00" font-size="16.50">(</text><text x="263.24" y="578.00" font-size="16.50" font-style="italic">M</text><circle cx="280.68" cy="580.10" r="3.90" fill="none" stroke="#1a1a1a" stroke-width="0.85"/><circle cx="280.68" cy="580.10" r="0.85" fill="#1a1a1a"/><text x="284.88" y="578.00" font-size="16.50">)</text><text x="478.38" y="576.50" font-size="16.50" font-style="italic">p</text><text x="487.56" y="576.50" font-size="16.50">(</text><text x="493.05" y="576.50" font-size="16.50" font-style="italic">m</text><text x="506.80" y="581.80" font-size="11.50">1</text><text x="513.19" y="576.50" font-size="16.50">) (</text><text x="528.77" y="576.50" font-size="16.50" font-style="italic">M</text><circle cx="546.21" cy="578.60" r="3.90" fill="none" stroke="#1a1a1a" stroke-width="0.85"/><circle cx="546.21" cy="578.60" r="0.85" fill="#1a1a1a"/><text x="546.41" y="569.00" font-size="11.50">−1</text><text x="559.52" y="576.50" font-size="16.50">)</text><g transform="translate(15.4 55) rotate(-90)"><text x="-43.32" y="0.00" font-size="16.50" font-style="italic">p</text><text x="-34.14" y="0.00" font-size="16.50">(</text><text x="-28.65" y="0.00" font-size="16.50" font-style="italic">m</text><text x="-14.90" y="5.30" font-size="11.50">2</text><text x="-8.51" y="0.00" font-size="16.50">) (</text><text x="7.07" y="0.00" font-size="16.50" font-style="italic">M</text><circle cx="24.51" cy="2.10" r="3.90" fill="none" stroke="#1a1a1a" stroke-width="0.85"/><circle cx="24.51" cy="2.10" r="0.85" fill="#1a1a1a"/><text x="24.71" y="-7.50" font-size="11.50">−1</text><text x="37.82" y="0.00" font-size="16.50">)</text></g><g transform="translate(18.5 326.4) rotate(-90)"><text x="-28.68" y="0.00" font-size="16.50" font-style="italic">m</text><text x="-14.93" y="5.30" font-size="11.50">1</text><text x="-3.95" y="0.00" font-size="16.50">(</text><text x="1.54" y="0.00" font-size="16.50" font-style="italic">M</text><circle cx="18.98" cy="2.10" r="3.90" fill="none" stroke="#1a1a1a" stroke-width="0.85"/><circle cx="18.98" cy="2.10" r="0.85" fill="#1a1a1a"/><text x="23.18" y="0.00" font-size="16.50">)</text></g><g transform="translate(677.6 327.2) rotate(-90)"><text x="-104.00" y="0.00" font-size="16.50">log(</text><text x="-76.48" y="0.00" font-size="16.50" font-style="italic">p</text><text x="-67.31" y="0.00" font-size="16.50">(</text><text x="-61.81" y="0.00" font-size="16.50" font-style="italic">m</text><text x="-48.07" y="5.30" font-size="11.50">1</text><text x="-41.67" y="0.00" font-size="16.50">,</text><text x="-32.50" y="0.00" font-size="16.50" font-style="italic">m</text><text x="-18.76" y="5.30" font-size="11.50">2</text><text x="-12.36" y="0.00" font-size="16.50">)/max</text><text x="28.89" y="0.00" font-size="16.50" font-style="italic">p</text><text x="38.06" y="0.00" font-size="16.50">(</text><text x="43.56" y="0.00" font-size="16.50" font-style="italic">m</text><text x="57.30" y="5.30" font-size="11.50">1</text><text x="63.70" y="0.00" font-size="16.50">,</text><text x="72.87" y="0.00" font-size="16.50" font-style="italic">m</text><text x="86.61" y="5.30" font-size="11.50">2</text><text x="93.01" y="0.00" font-size="16.50">))</text></g><text x="212.17" y="46.90" font-size="15.65">Pair-instability gap</text>
</g>
</svg>
</body></html>
